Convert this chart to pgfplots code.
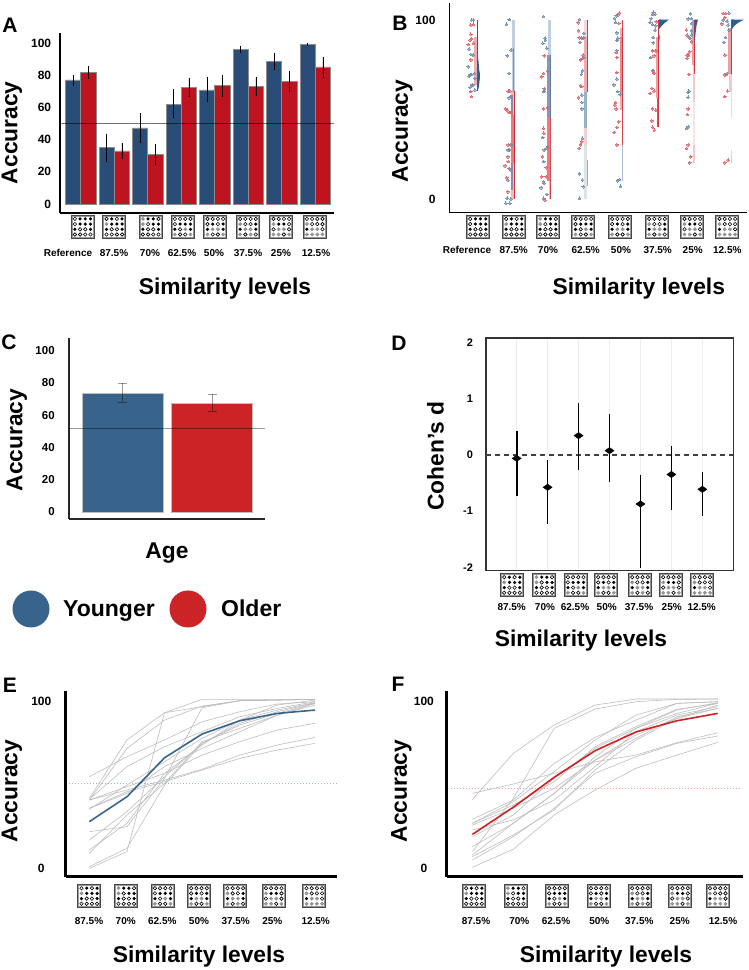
\documentclass[border=0pt]{standalone}
\usepackage{fontspec}
\setmainfont{Liberation Sans}
\usepackage{pgfplots}
\usepackage{pgfplotstable}
\pgfplotsset{compat=1.18}
\definecolor{aBlue}{HTML}{2A4D78}
\definecolor{aRed}{HTML}{BE1420}
\definecolor{cBlue}{HTML}{38648C}
\definecolor{cRed}{HTML}{CB2326}
\definecolor{bl}{HTML}{2F5F8F}
\definecolor{rd}{HTML}{D1202A}
\definecolor{pk}{HTML}{E2787C}
\definecolor{gr}{HTML}{DCE4E8}
\definecolor{lineG}{HTML}{BDBDBD}
\newcommand\fs[1]{\fontsize{#1}{#1}\selectfont\bfseries}
\newcommand\lab[4][]{\node[inner sep=0pt,#1] at (#2,{970-#3}) {#4};}
\tikzset{
 doto/.style={draw=black,line width=.6pt,fill=white},
 dotk/.style={fill=black},
 dotg/.style={fill=black!42,draw=black!42,line width=.3pt}}
\def\pRef{o,k,k,k,o,k,k,k,k,o,o,k,o,o,o,o}
\def\pA{o,k,o,k,g,k,k,k,k,o,o,k,o,o,o,o}
\def\pB{g,k,k,o,g,o,k,k,k,o,o,k,o,o,o,o}
\def\pC{o,o,o,o,o,k,k,k,k,o,g,k,g,o,o,g}
\def\pD{o,o,o,o,o,k,o,k,k,g,g,k,g,o,o,g}
\def\pE{o,o,o,o,g,o,o,k,k,g,g,k,g,o,g,o}
\def\pF{o,o,o,o,g,k,k,o,o,g,g,o,g,g,o,g}
\def\pG{o,o,o,o,g,o,o,o,k,g,g,o,g,g,g,g}
\newcommand\icon[3]{\begin{scope}[shift={(#1,{970-#2})}]
 \draw[black!72,line width=1pt,fill=white] (-11.4,-11.4) rectangle (11.4,11.4);
 \draw[black!40,line width=1pt] (-10.4,-10.4) rectangle (10.4,10.4);
 \foreach \c [count=\n from 0] in #3 {
  \pgfmathsetmacro\cc{mod(\n,4)}\pgfmathsetmacro\rr{int(\n/4)}
  \path[dot\c] ({-7.8+5.2*\cc},{7.8-5.2*\rr}) circle (1.75);}
 \end{scope}}
\newcommand\seg[6]{\addplot[draw=#1,line width=#2pt,opacity=#3,forget plot] coordinates {(#4,#5)(#4,#6)};}
\pgfplotsset{every axis/.append style={scale only axis,clip=false,
  /pgf/number format/assume math mode=true,
  major tick style={draw=none},xtick=\empty,
  yticklabel style={inner sep=0pt}}}
\pgfplotstableread{
x y ep em
1 77.2 3.1 3.5
2 35.1 8.7 8.8
3 47.3 9.1 9.1
4 62.2 9.2 8.9
5 71.0 7.8 7.7
6 96.0 2.5 2.2
7 88.6 5.2 5.4
8 99.4 1.0 0.9
}\tabAy
\pgfplotstableread{
x y ep em
1 82.0 3.7 4.0
2 33.0 5.0 5.2
3 31.1 6.5 7.0
4 72.4 5.8 6.0
5 73.7 6.6 6.9
6 73.0 5.8 5.6
7 76.3 6.7 6.6
8 85.3 6.0 6.7
}\tabAo
\pgfplotstableread{
x y
0.835 97.2
0.91 97.6
0.835 92
0.82 88.8
0.86 89.4
0.77 86.4
0.91 87
0.84 77.7
0.84 60
0.86 57.2
0.89 63.7
1.87 60.3
1.91 60.3
1.80 50.3
1.84 49.7
1.89 48.4
1.94 48.4
1.87 30.2
1.89 27.4
1.86 23.6
1.87 20.9
1.78 18.6
1.89 17.1
1.83 11.9
1.86 4.1
2.86 80
2.84 70.2
2.79 68.3
2.86 61.5
2.95 51
2.84 50.3
2.84 39.5
2.85 36.7
2.93 28.3
2.81 23.6
2.91 17.5
2.79 12.5
2.91 12.5
2.84 9.7
2.88 -0.6
3.79 98.5
3.80 94
3.82 90.1
3.89 89.8
3.91 78.6
3.86 77.7
3.86 63.3
3.89 62.8
3.80 56.6
3.89 32
3.86 30.2
3.82 28.3
3.93 80.4
4.93 103.9
4.88 102.8
4.91 98.1
4.84 81.9
4.86 79.1
4.86 70.6
4.82 54
4.80 52.5
4.84 50.3
4.91 43.2
4.86 40
4.78 37.2
4.86 30.2
5.86 104.3
5.94 99
5.93 82.7
5.84 82.7
5.88 80
5.84 71.7
5.88 70.2
5.82 61.8
5.88 60.3
5.77 59
5.93 49.7
5.84 50.3
5.82 43.6
5.84 40.2
5.89 38.5
6.77 94.4
6.79 91.6
6.86 89.8
6.91 87.9
6.86 82.3
6.79 80.4
6.83 80.4
6.79 78.6
6.84 69.6
6.82 50.3
6.80 47.3
6.82 30.2
6.77 28.3
6.89 23.6
6.86 20.3
7.78 103.7
7.85 103.7
7.83 101.3
7.75 97.8
7.83 80.4
7.87 69.6
7.83 69.3
7.90 60.3
7.83 57.2
7.92 21.8
7.83 20.3
}\tabBo
\pgfplotstableread{
x y
0.86 100
0.91 100
0.79 83.8
0.84 80.8
0.91 80.4
0.77 73.9
0.82 69.3
0.79 68.7
0.86 69.6
0.94 70.2
0.95 67.4
0.82 62.4
0.88 63.7
0.95 60.9
1.89 100.2
1.82 97.6
1.95 83.2
1.84 80
1.89 70.2
1.89 56.6
1.94 57.2
1.94 30.2
1.87 27.4
1.94 16.2
1.86 10.6
1.84 0.4
1.94 0
1.80 -2.4
1.91 -2.4
2.84 102
2.88 89.8
2.89 88.8
2.82 87
2.93 84.2
2.95 71.5
2.84 60
2.86 60.3
2.82 34.3
2.86 27.4
2.95 29.2
2.85 20.9
2.86 8.8
2.77 6.3
2.93 2.6
2.84 0.4
3.83 100.2
3.95 92.5
3.95 90.1
3.84 87.5
3.95 79.1
3.91 71.7
3.88 69.8
3.89 58.1
3.89 54
3.89 50.3
3.91 33.9
3.83 14
3.91 10.6
3.93 6.9
3.83 0.4
4.84 102.4
4.79 100.9
4.82 98.7
4.86 92.9
4.88 89.8
4.86 88.5
4.86 82.9
4.86 67
4.77 63.7
4.88 60
4.95 58.5
4.93 11
4.88 10.2
4.96 7.1
5.84 103.2
5.91 103.2
5.80 100.9
5.77 98.7
5.84 97.6
5.93 96.8
5.91 94.4
5.86 90.3
5.86 87.3
5.79 79
5.86 71.7
6.88 103.5
6.82 100.6
6.91 100.9
6.91 98.1
6.91 93.9
6.91 91.6
6.84 90.3
6.82 59.6
6.84 60.3
6.82 56.8
6.77 39.5
6.82 40.4
7.94 103.9
7.78 100
7.89 99.4
7.92 97.2
7.94 94.4
7.80 87.5
7.85 90.3
7.89 70.2
}\tabBy
\pgfplotstableread{
x y ep em
1 -0.06 0.493 0.67
2 -0.575 0.492 0.653
3 0.344 0.587 0.611
4 0.077 0.658 0.563
5 -0.872 0.51 1.145
6 -0.347 0.513 0.632
7 -0.611 0.303 0.474
}\tabD
\pgfplotstableread{
x l1 l2 l3 l4 l5 l6 l7 l8 l9 l10 l11 l12 l13 l14 l15 m
1 41.8 40.8 54.8 41.2 35.3 40.8 35.9 35.9 40.8 16.9 11 9 21.9 1 0 27.9
2 76.7 71.7 66.7 60.8 49.8 48.8 44.8 45.8 46.8 33.9 26.9 31.9 24.9 12 10 42.8
3 93 88.6 76.7 72.7 63.7 56.8 60.8 51.8 52.8 54.8 56.8 50.8 53.8 49.8 93 66.1
4 101 97 87.6 81.7 77.7 67.7 71.7 58.8 59.2 74.7 73.7 75.7 96 74.7 96.6 80.3
5 101 100.2 93.6 90.6 88.6 75.7 81.7 65.7 67.7 86.7 88.6 83.7 100.2 85.7 100.2 88.2
6 101 100.6 98.2 95.6 97.6 82.7 91.6 70.7 73.7 93.6 94.6 91.6 100.6 92.6 100.6 92.6
7 101 101 99.6 99.6 100.6 86.7 98.6 74.7 78.3 99 99 97.6 101 98.6 101 94.6
}\tabE
\pgfplotstableread{
x l1 l2 l3 l4 l5 l6 l7 l8 l9 l10 l11 l12 l13 l14 m
1 41.2 10 44.8 29.3 26.9 26.9 25.9 22.9 18.9 12.9 7 5 0.6 8 20.3
2 68.7 41.8 50.4 40.8 39.8 37.8 35.9 28.9 31.9 26.9 19.9 18.9 11.4 26.9 36.5
3 85.7 83.7 56.8 62.7 57.8 51.8 47.8 40.8 53.8 44.8 34.9 35.9 31.9 44.8 54.4
4 97.6 95.2 63.7 78.3 76.7 72.7 64.7 60.8 71.7 64.7 58.8 56.8 46.8 66.7 70.3
5 101.2 99.6 67.7 88.6 91.6 84.7 77.7 81.7 83.7 79.7 76.7 66.7 59.8 83.7 81.5
6 101.2 101 75.1 98.6 98.6 95 90.6 91.6 92.6 89.6 89.6 74.7 67.7 94.6 88.2
7 101.2 101.2 81.1 99.6 99.6 98.6 95.6 96.6 98.6 95.6 97.6 79.1 75.3 99 92.6
}\tabF
\begin{document}
\begin{tikzpicture}[x=1pt,y=1pt]
\path[use as bounding box] (0,0) rectangle (749,970);

% ---------- A
\begin{axis}[at={(60pt,757.3pt)},anchor=south west,width=274.3pt,height=179.7pt,
  xmin=0.382,xmax=8.57,ymin=-5.4,ymax=106.4,axis lines=left,
  axis line style={-,line width=1.7pt},
  ytick={0,20,...,100},yticklabel style={font=\fs{12},xshift=-6.5pt},
  ybar=0pt,bar width=15.2pt]
\addplot[fill=aBlue,draw=black!45,line width=.5pt,error bars/.cd,y dir=both,y explicit,error mark=none,error bar style={black,line width=.6pt}]
  table[x=x,y=y,y error plus=ep,y error minus=em]{\tabAy};
\addplot[fill=aRed,draw=black!45,line width=.5pt,error bars/.cd,y dir=both,y explicit,error mark=none,error bar style={black,line width=.6pt}]
  table[x=x,y=y,y error plus=ep,y error minus=em]{\tabAo};
\end{axis}
\begin{axis}[at={(60pt,757.3pt)},anchor=south west,width=274.3pt,height=179.7pt,
  xmin=0.382,xmax=8.57,ymin=-5.4,ymax=106.4,hide axis]
\addplot[black,opacity=.55,line width=.8pt] coordinates {(0.382,50)(8.57,50)};
\end{axis}

% ---------- B
\begin{axis}[at={(449.3pt,757.7pt)},anchor=south west,width=297.4pt,height=209.3pt,
  xmin=0.246,xmax=8.43,ymin=-7.4,ymax=109.5,axis lines=left,
  axis line style={-,line width=1.3pt},
  ytick={0,100},yticklabel style={font=\fs{12},xshift=-11.5pt}]
\addplot[only marks,color=rd!70,mark=*,mark size=1.35pt,mark options={fill=rd!70,draw=rd!70,line width=0pt,opacity=.75}] table[x=x,y=y]{\tabBo};
\addplot[only marks,color=bl!70,mark=*,mark size=1.35pt,mark options={fill=bl!70,draw=bl!70,line width=0pt,opacity=.75}] table[x=x,y=y]{\tabBy};
\seg{pk}{3}{.6}{.977}{90.3}{63.7}
\seg{rd}{1}{1}{1.03}{100}{60.3}
\seg{bl}{2.3}{.3}{2.01}{100}{60}
\seg{bl}{1.3}{.5}{2.01}{84.2}{60}
\seg{pk}{3.3}{.5}{2}{60.3}{0}
\seg{rd}{3.3}{.4}{2}{46.9}{20}
\seg{bl}{2}{.5}{1.98}{58}{46.9}
\seg{bl}{2}{.5}{1.98}{20}{5}
\seg{rd}{.8}{.9}{2.04}{60.3}{0}
\seg{bl}{3}{.3}{2.99}{100}{80.4}
\seg{pk}{3}{.5}{2.98}{80.4}{10}
\seg{bl}{2.5}{.45}{2.97}{80.4}{45}
\seg{rd}{3}{.4}{2.98}{45}{10}
\seg{pk}{2}{.5}{3.01}{10}{0}
\seg{rd}{.8}{.8}{3.03}{45}{0}
\seg{bl}{.8}{.8}{3.03}{80.4}{45}
\seg{gr}{3.3}{1}{4}{30}{0}
\seg{pk}{3.3}{.3}{4}{100}{90.7}
\seg{pk}{3.3}{.6}{4}{90.7}{60}
\seg{bl}{2.5}{.5}{3.99}{60}{39.9}
\seg{pk}{3}{.35}{4}{39.9}{30}
\seg{bl}{.8}{.5}{4.05}{21.8}{7.4}
\seg{rd}{1}{.9}{4.05}{100}{60}
\seg{pk}{3.3}{.6}{4.98}{95.3}{49.7}
\seg{rd}{3.3}{.25}{4.98}{90.7}{59.6}
\seg{rd}{.9}{.85}{5.02}{100}{30}
\seg{bl}{.9}{.4}{5.01}{30}{10}
\seg{pk}{3.3}{.7}{5.97}{90.3}{56.2}
\seg{rd}{.8}{.8}{5.97}{56.2}{40.4}
\seg{rd}{.8}{.9}{6.01}{100}{40.4}
\seg{bl}{3}{.5}{6.96}{100}{90}
\seg{pk}{3}{.7}{6.96}{89.8}{74.9}
\seg{pk}{2.5}{.4}{6.98}{74.9}{54.4}
\seg{pk}{2.5}{.2}{6.98}{54.4}{30}
\seg{pk}{2}{.4}{6.99}{30}{20.3}
\seg{rd}{.9}{.9}{7}{100}{70}
\seg{pk}{3}{.7}{7.97}{95.3}{70}
\seg{pk}{2.5}{.4}{7.98}{70}{60}
\seg{pk}{1}{.3}{8}{60}{45}
\seg{pk}{.8}{.4}{8}{27.4}{20.3}
\seg{rd}{.9}{.9}{8.01}{100}{70}
\addplot[fill=bl,draw=none] coordinates {(1.03,80)(1.05,77)(1.07,72)(1.09,70)(1.085,67)(1.06,63)(1.03,60)} -- cycle;
\addplot[fill=bl,draw=none] coordinates {(6.02,100.3)(6.29,100.2)(6.18,98.5)(6.08,96.5)(6.02,95)} -- cycle;
\addplot[fill=bl,draw=none] coordinates {(6.03,92)(6.05,90.5)(6.03,88.5)} -- cycle;
\addplot[fill=bl,draw=none] coordinates {(7,100.3)(7.09,100.2)(7.05,97)(7.02,92)(7,87)} -- cycle;
\addplot[fill=bl,draw=none] coordinates {(8.01,100.3)(8.35,100.2)(8.2,98.5)(8.1,97)(8.01,94.5)} -- cycle;
\end{axis}

% ---------- C
\begin{axis}[at={(69pt,451pt)},anchor=south west,width=196pt,height=181pt,
  xmin=0.399,xmax=2.593,ymin=-4.5,ymax=107.9,axis lines=left,
  axis line style={-,line width=1.3pt,black!85},
  ytick={0,20,...,100},yticklabel style={font=\fs{11.5},xshift=-12pt},
  ybar=0pt,bar width=80.7pt]
\addplot[fill=cBlue,draw=black!25,line width=.5pt,bar shift=0pt]
  coordinates {(1,73.8)};
\addplot[fill=cRed,draw=black!25,line width=.5pt,bar shift=0pt]
  coordinates {(2,67.6)};
\end{axis}
\begin{axis}[at={(69pt,451pt)},anchor=south west,width=196pt,height=181pt,
  xmin=0.399,xmax=2.593,ymin=-4.5,ymax=107.9,hide axis]
\addplot[black,opacity=.4,line width=.6pt] coordinates {(0.399,51.7)(2.593,51.7)};
\addplot[draw=none,mark=none,error bars/.cd,y dir=both,y explicit,error bar style={black,opacity=.4,line width=.6pt},
  error mark=-,error mark options={rotate=90,mark size=4.5pt,black,opacity=.4,line width=.5pt}]
  coordinates {(1,73.8) +- (0,5.9) (2,67.6) +- (0,5.3)};
\end{axis}

% ---------- D
\begin{axis}[at={(485.7pt,399.3pt)},anchor=south west,width=247.6pt,height=232.4pt,
  xmin=0,xmax=8,ymin=-2.059,ymax=2.076,
  axis line style={line width=1.6pt,black!80},
  xtick={1,...,7},xticklabels={},xmajorgrids,
  x grid style={black!7,line width=.4pt},
  ytick={-2,-1,0,1,2},yticklabel style={font=\fs{11},xshift=-12.5pt}]
\addplot[black!75,line width=1.2pt,dash pattern=on 5pt off 4pt] coordinates {(0,0)(8,0)};
\addplot[only marks,mark=diamond*,mark size=3.2pt,mark options={black,xscale=1.9},
  error bars/.cd,y dir=both,y explicit,error mark=none,error bar style={black,line width=1.7pt}]
  table[x=x,y=y,y error plus=ep,y error minus=em]{\tabD};
\end{axis}

% ---------- E
\begin{axis}[at={(65.7pt,93.3pt)},anchor=south west,width=271pt,height=185.7pt,
  xmin=0.371,xmax=7.578,ymin=-5,ymax=106,axis lines=left,
  axis line style={-,line width=2.7pt},
  ytick={0,100},yticklabel style={font=\fs{12},anchor=center,xshift=-22.3pt}]
\addplot[color=teal!40!gray!55,line width=.7pt,dash pattern=on .8pt off 2.2pt] coordinates {(0.459,50.6)(7.62,50.6)};
\pgfplotsinvokeforeach{1,...,15}{\addplot[lineG,line width=.6pt] table[x=x,y=l#1]{\tabE};}
\addplot[cBlue,line width=1.6pt] table[x=x,y=m]{\tabE};
\end{axis}

% ---------- F
\begin{axis}[at={(446.7pt,93.3pt)},anchor=south west,width=296pt,height=185.7pt,
  xmin=0.372,xmax=7.61,ymin=-5,ymax=106,axis lines=left,
  axis line style={-,line width=2.7pt},
  ytick={0,100},yticklabel style={font=\fs{12},anchor=center,xshift=-20.7pt}]
\addplot[color=red!40,line width=.7pt,dash pattern=on .8pt off 2.2pt] coordinates {(0.478,47.6)(7.585,47.6)};
\pgfplotsinvokeforeach{1,...,14}{\addplot[lineG,line width=.6pt] table[x=x,y=l#1]{\tabF};}
\addplot[cRed,line width=1.6pt] table[x=x,y=m]{\tabF};
\end{axis}

% ---------- panel letters
\lab{10}{25}{\fs{21}A}
\lab{400}{23}{\fs{21}B}
\lab{9}{342}{\fs{21}C}
\lab{399}{343}{\fs{21}D}
\lab{10}{685}{\fs{21}E}
\lab{398}{684}{\fs{21}F}

% ---------- axis titles
\lab[rotate=90]{12}{132.7}{\fs{22.8}Accuracy}
\lab{225}{288.5}{\fs{22.8}Similarity levels}
\lab[rotate=90]{402.5}{131}{\fs{22.8}Accuracy}
\lab{638.8}{288.5}{\fs{22.8}Similarity levels}
\lab[rotate=90]{17}{440}{\fs{22.8}Accuracy}
\lab{167}{553.5}{\fs{22.8}Age}
\lab[rotate=90]{435.5}{456}{\fs{22.8}Cohen’s d}
\lab{581}{641}{\fs{22.8}Similarity levels}
\lab[rotate=90]{12}{791}{\fs{22.8}Accuracy}
\lab{199}{957}{\fs{22.8}Similarity levels}
\lab[rotate=90]{401.5}{791}{\fs{22.8}Accuracy}
\lab{606}{957}{\fs{22.8}Similarity levels}

% ---------- legend
\fill[cBlue] (31,{970-609}) circle (18.5);
\fill[cRed] (188,{970-609}) circle (18.5);
\lab[anchor=base west]{63}{617}{\fs{23}Younger}
\lab[anchor=base west]{221}{617}{\fs{23}Older}

% ---------- icons and level labels
\icon{82.7}{226.7}{\pRef}\icon{114.3}{226.7}{\pA}\icon{150.7}{226.7}{\pB}\icon{182.7}{226.7}{\pC}
\icon{215.3}{226.7}{\pD}\icon{248}{226.7}{\pE}\icon{281.3}{226.7}{\pF}\icon{314.7}{226.7}{\pG}
\lab{68}{253}{\fs{10}Reference}\lab{114}{253}{\fs{10}87.5\%}\lab{150}{253}{\fs{10}70\%}\lab{182}{253}{\fs{10}62.5\%}
\lab{214}{253}{\fs{10}50\%}\lab{248}{253}{\fs{10}37.5\%}\lab{281}{253}{\fs{10}25\%}\lab{316}{253}{\fs{10}12.5\%}

\icon{478}{226.7}{\pRef}\icon{514}{226.7}{\pA}\icon{548}{226.7}{\pB}\icon{583.3}{226.7}{\pC}
\icon{620}{226.7}{\pD}\icon{657}{226.7}{\pE}\icon{692.3}{226.7}{\pF}\icon{727.3}{226.7}{\pG}
\lab{467}{250}{\fs{10}Reference}\lab{513.7}{250}{\fs{10}87.5\%}\lab{548}{250}{\fs{10}70\%}\lab{585.7}{250}{\fs{10}62.5\%}
\lab{621}{250}{\fs{10}50\%}\lab{657.7}{250}{\fs{10}37.5\%}\lab{692.7}{250}{\fs{10}25\%}\lab{727.3}{250}{\fs{10}12.5\%}

\icon{512}{585}{\pA}\icon{544.3}{585}{\pB}\icon{575.7}{585}{\pC}\icon{606}{585}{\pD}
\icon{640}{585}{\pE}\icon{671}{585}{\pF}\icon{702.3}{585}{\pG}
\lab{511.7}{606.7}{\fs{10}87.5\%}\lab{545}{606.7}{\fs{10}70\%}\lab{575}{606.7}{\fs{10}62.5\%}\lab{606.7}{606.7}{\fs{10}50\%}
\lab{639}{606.7}{\fs{10}37.5\%}\lab{671.7}{606.7}{\fs{10}25\%}\lab{701.7}{606.7}{\fs{10}12.5\%}

\icon{89.3}{896}{\pA}\icon{126.3}{896}{\pB}\icon{162.7}{896}{\pC}\icon{199}{896}{\pD}
\icon{235.3}{896}{\pE}\icon{273.7}{896}{\pF}\icon{314.3}{896}{\pG}
\lab{89}{921}{\fs{10}87.5\%}\lab{125.7}{921}{\fs{10}70\%}\lab{162.3}{921}{\fs{10}62.5\%}\lab{199}{921}{\fs{10}50\%}
\lab{235.7}{921}{\fs{10}37.5\%}\lab{272.3}{921}{\fs{10}25\%}\lab{315.7}{921}{\fs{10}12.5\%}

\icon{474}{896}{\pA}\icon{515.7}{896}{\pB}\icon{557}{896}{\pC}\icon{598.7}{896}{\pD}
\icon{640}{896}{\pE}\icon{680}{896}{\pF}\icon{717.7}{896}{\pG}
\lab{476}{921}{\fs{10}87.5\%}\lab{519.3}{921}{\fs{10}70\%}\lab{556}{921}{\fs{10}62.5\%}\lab{599.3}{921}{\fs{10}50\%}
\lab{639.3}{921}{\fs{10}37.5\%}\lab{679.7}{921}{\fs{10}25\%}\lab{723}{921}{\fs{10}12.5\%}
\end{tikzpicture}
\end{document}
